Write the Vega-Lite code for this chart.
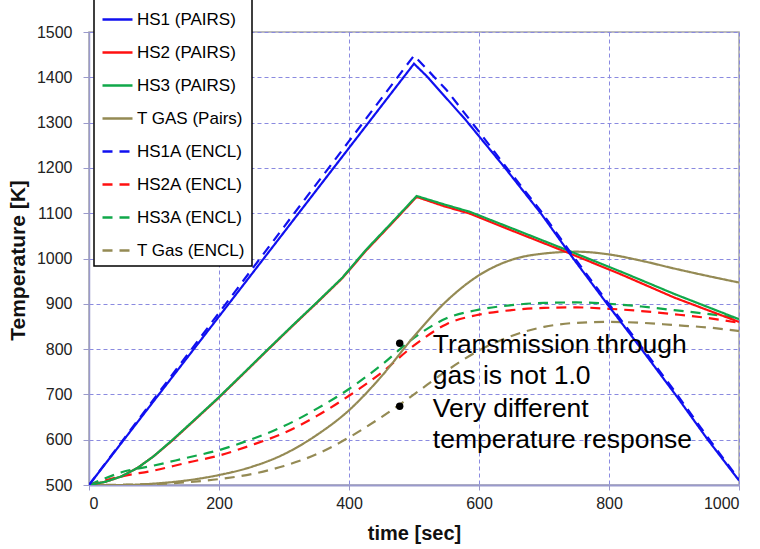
{
  "$schema": "https://vega.github.io/schema/vega-lite/v6.json",
  "width": 650,
  "height": 453,
  "autosize": "none",
  "padding": {"left": 89, "top": 32, "right": 21, "bottom": 64},
  "background": "white",
  "config": {
    "view": {"stroke": "#a6a6a6", "strokeWidth": 1.5},
    "font": "Liberation Sans",
    "axis": {
      "labelFont": "Liberation Sans",
      "labelFontSize": 16,
      "labelColor": "#222222",
      "titleFont": "Liberation Sans",
      "titleColor": "#111111",
      "titleFontWeight": "bold",
      "domainColor": "#9a9acc",
      "tickColor": "#9a9acc",
      "gridColor": "#8a8ae0",
      "gridDash": [4, 3],
      "gridWidth": 1
    }
  },
  "datasets": {
    "smooth": [
      {"series": "T Gas (ENCL)", "t": 0, "T": 500},
      {"series": "T Gas (ENCL)", "t": 100, "T": 502},
      {"series": "T Gas (ENCL)", "t": 150, "T": 506},
      {"series": "T Gas (ENCL)", "t": 200, "T": 513},
      {"series": "T Gas (ENCL)", "t": 250, "T": 524},
      {"series": "T Gas (ENCL)", "t": 300, "T": 542},
      {"series": "T Gas (ENCL)", "t": 350, "T": 568},
      {"series": "T Gas (ENCL)", "t": 400, "T": 605},
      {"series": "T Gas (ENCL)", "t": 450, "T": 650},
      {"series": "T Gas (ENCL)", "t": 500, "T": 700},
      {"series": "T Gas (ENCL)", "t": 550, "T": 752},
      {"series": "T Gas (ENCL)", "t": 600, "T": 797},
      {"series": "T Gas (ENCL)", "t": 650, "T": 829},
      {"series": "T Gas (ENCL)", "t": 700, "T": 849},
      {"series": "T Gas (ENCL)", "t": 750, "T": 858},
      {"series": "T Gas (ENCL)", "t": 800, "T": 860},
      {"series": "T Gas (ENCL)", "t": 850, "T": 858},
      {"series": "T Gas (ENCL)", "t": 900, "T": 853},
      {"series": "T Gas (ENCL)", "t": 950, "T": 848},
      {"series": "T Gas (ENCL)", "t": 1000, "T": 840},

      {"series": "HS2A (ENCL)", "t": 0, "T": 500},
      {"series": "HS2A (ENCL)", "t": 25, "T": 510},
      {"series": "HS2A (ENCL)", "t": 50, "T": 519},
      {"series": "HS2A (ENCL)", "t": 100, "T": 532},
      {"series": "HS2A (ENCL)", "t": 150, "T": 549},
      {"series": "HS2A (ENCL)", "t": 200, "T": 565},
      {"series": "HS2A (ENCL)", "t": 250, "T": 588},
      {"series": "HS2A (ENCL)", "t": 300, "T": 615},
      {"series": "HS2A (ENCL)", "t": 350, "T": 652},
      {"series": "HS2A (ENCL)", "t": 400, "T": 697},
      {"series": "HS2A (ENCL)", "t": 450, "T": 748},
      {"series": "HS2A (ENCL)", "t": 500, "T": 808},
      {"series": "HS2A (ENCL)", "t": 550, "T": 855},
      {"series": "HS2A (ENCL)", "t": 600, "T": 876},
      {"series": "HS2A (ENCL)", "t": 650, "T": 886},
      {"series": "HS2A (ENCL)", "t": 700, "T": 891},
      {"series": "HS2A (ENCL)", "t": 750, "T": 892},
      {"series": "HS2A (ENCL)", "t": 800, "T": 889},
      {"series": "HS2A (ENCL)", "t": 850, "T": 884},
      {"series": "HS2A (ENCL)", "t": 900, "T": 877},
      {"series": "HS2A (ENCL)", "t": 950, "T": 869},
      {"series": "HS2A (ENCL)", "t": 1000, "T": 858},

      {"series": "HS3A (ENCL)", "t": 0, "T": 500},
      {"series": "HS3A (ENCL)", "t": 25, "T": 515},
      {"series": "HS3A (ENCL)", "t": 50, "T": 528},
      {"series": "HS3A (ENCL)", "t": 100, "T": 543},
      {"series": "HS3A (ENCL)", "t": 150, "T": 560},
      {"series": "HS3A (ENCL)", "t": 200, "T": 577},
      {"series": "HS3A (ENCL)", "t": 250, "T": 601},
      {"series": "HS3A (ENCL)", "t": 300, "T": 630},
      {"series": "HS3A (ENCL)", "t": 350, "T": 668},
      {"series": "HS3A (ENCL)", "t": 400, "T": 712},
      {"series": "HS3A (ENCL)", "t": 450, "T": 765},
      {"series": "HS3A (ENCL)", "t": 500, "T": 825},
      {"series": "HS3A (ENCL)", "t": 550, "T": 868},
      {"series": "HS3A (ENCL)", "t": 600, "T": 887},
      {"series": "HS3A (ENCL)", "t": 650, "T": 897},
      {"series": "HS3A (ENCL)", "t": 700, "T": 902},
      {"series": "HS3A (ENCL)", "t": 750, "T": 903},
      {"series": "HS3A (ENCL)", "t": 800, "T": 900},
      {"series": "HS3A (ENCL)", "t": 850, "T": 894},
      {"series": "HS3A (ENCL)", "t": 900, "T": 886},
      {"series": "HS3A (ENCL)", "t": 950, "T": 878},
      {"series": "HS3A (ENCL)", "t": 1000, "T": 868},

      {"series": "T GAS (Pairs)", "t": 0, "T": 500},
      {"series": "T GAS (Pairs)", "t": 50, "T": 500},
      {"series": "T GAS (Pairs)", "t": 100, "T": 503},
      {"series": "T GAS (Pairs)", "t": 150, "T": 510},
      {"series": "T GAS (Pairs)", "t": 200, "T": 522},
      {"series": "T GAS (Pairs)", "t": 250, "T": 540},
      {"series": "T GAS (Pairs)", "t": 300, "T": 568},
      {"series": "T GAS (Pairs)", "t": 350, "T": 610},
      {"series": "T GAS (Pairs)", "t": 400, "T": 665},
      {"series": "T GAS (Pairs)", "t": 450, "T": 740},
      {"series": "T GAS (Pairs)", "t": 500, "T": 828},
      {"series": "T GAS (Pairs)", "t": 550, "T": 906},
      {"series": "T GAS (Pairs)", "t": 600, "T": 963},
      {"series": "T GAS (Pairs)", "t": 650, "T": 997},
      {"series": "T GAS (Pairs)", "t": 700, "T": 1011},
      {"series": "T GAS (Pairs)", "t": 750, "T": 1015},
      {"series": "T GAS (Pairs)", "t": 800, "T": 1009},
      {"series": "T GAS (Pairs)", "t": 850, "T": 995},
      {"series": "T GAS (Pairs)", "t": 900, "T": 978},
      {"series": "T GAS (Pairs)", "t": 950, "T": 962},
      {"series": "T GAS (Pairs)", "t": 1000, "T": 947}
    ],
    "sharp": [
      {"series": "HS2 (PAIRS)", "t": 0, "T": 500},
      {"series": "HS2 (PAIRS)", "t": 25, "T": 507},
      {"series": "HS2 (PAIRS)", "t": 50, "T": 519},
      {"series": "HS2 (PAIRS)", "t": 75, "T": 538},
      {"series": "HS2 (PAIRS)", "t": 100, "T": 564},
      {"series": "HS2 (PAIRS)", "t": 128, "T": 598},
      {"series": "HS2 (PAIRS)", "t": 160, "T": 640},
      {"series": "HS2 (PAIRS)", "t": 197, "T": 689},
      {"series": "HS2 (PAIRS)", "t": 240, "T": 749},
      {"series": "HS2 (PAIRS)", "t": 277, "T": 801},
      {"series": "HS2 (PAIRS)", "t": 313, "T": 851},
      {"series": "HS2 (PAIRS)", "t": 349, "T": 900},
      {"series": "HS2 (PAIRS)", "t": 390, "T": 957},
      {"series": "HS2 (PAIRS)", "t": 426, "T": 1017},
      {"series": "HS2 (PAIRS)", "t": 465, "T": 1076},
      {"series": "HS2 (PAIRS)", "t": 504, "T": 1136},
      {"series": "HS2 (PAIRS)", "t": 545, "T": 1116},
      {"series": "HS2 (PAIRS)", "t": 586, "T": 1099},
      {"series": "HS2 (PAIRS)", "t": 650, "T": 1062},
      {"series": "HS2 (PAIRS)", "t": 740, "T": 1011},
      {"series": "HS2 (PAIRS)", "t": 820, "T": 964},
      {"series": "HS2 (PAIRS)", "t": 900, "T": 914},
      {"series": "HS2 (PAIRS)", "t": 1000, "T": 860},

      {"series": "HS3 (PAIRS)", "t": 0, "T": 500},
      {"series": "HS3 (PAIRS)", "t": 25, "T": 507},
      {"series": "HS3 (PAIRS)", "t": 50, "T": 519},
      {"series": "HS3 (PAIRS)", "t": 75, "T": 538},
      {"series": "HS3 (PAIRS)", "t": 100, "T": 564},
      {"series": "HS3 (PAIRS)", "t": 128, "T": 599},
      {"series": "HS3 (PAIRS)", "t": 160, "T": 641},
      {"series": "HS3 (PAIRS)", "t": 197, "T": 690},
      {"series": "HS3 (PAIRS)", "t": 240, "T": 750},
      {"series": "HS3 (PAIRS)", "t": 277, "T": 802},
      {"series": "HS3 (PAIRS)", "t": 313, "T": 852},
      {"series": "HS3 (PAIRS)", "t": 349, "T": 901},
      {"series": "HS3 (PAIRS)", "t": 390, "T": 958},
      {"series": "HS3 (PAIRS)", "t": 426, "T": 1019},
      {"series": "HS3 (PAIRS)", "t": 465, "T": 1078},
      {"series": "HS3 (PAIRS)", "t": 504, "T": 1138},
      {"series": "HS3 (PAIRS)", "t": 545, "T": 1120},
      {"series": "HS3 (PAIRS)", "t": 586, "T": 1103},
      {"series": "HS3 (PAIRS)", "t": 650, "T": 1067},
      {"series": "HS3 (PAIRS)", "t": 740, "T": 1016},
      {"series": "HS3 (PAIRS)", "t": 820, "T": 970},
      {"series": "HS3 (PAIRS)", "t": 900, "T": 922},
      {"series": "HS3 (PAIRS)", "t": 1000, "T": 866},

      {"series": "HS1A (ENCL)", "t": 0, "T": 500},
      {"series": "HS1A (ENCL)", "t": 100, "T": 690},
      {"series": "HS1A (ENCL)", "t": 200, "T": 880},
      {"series": "HS1A (ENCL)", "t": 300, "T": 1070},
      {"series": "HS1A (ENCL)", "t": 400, "T": 1259},
      {"series": "HS1A (ENCL)", "t": 500, "T": 1448},
      {"series": "HS1A (ENCL)", "t": 550, "T": 1372},
      {"series": "HS1A (ENCL)", "t": 600, "T": 1280},
      {"series": "HS1A (ENCL)", "t": 640, "T": 1205},
      {"series": "HS1A (ENCL)", "t": 695, "T": 1105},
      {"series": "HS1A (ENCL)", "t": 745, "T": 1005},
      {"series": "HS1A (ENCL)", "t": 797, "T": 905},
      {"series": "HS1A (ENCL)", "t": 850, "T": 805},
      {"series": "HS1A (ENCL)", "t": 902, "T": 705},
      {"series": "HS1A (ENCL)", "t": 952, "T": 605},
      {"series": "HS1A (ENCL)", "t": 1000, "T": 512},

      {"series": "HS1 (PAIRS)", "t": 0, "T": 500},
      {"series": "HS1 (PAIRS)", "t": 100, "T": 686},
      {"series": "HS1 (PAIRS)", "t": 200, "T": 872},
      {"series": "HS1 (PAIRS)", "t": 300, "T": 1058},
      {"series": "HS1 (PAIRS)", "t": 400, "T": 1244},
      {"series": "HS1 (PAIRS)", "t": 500, "T": 1430},
      {"series": "HS1 (PAIRS)", "t": 520, "T": 1402},
      {"series": "HS1 (PAIRS)", "t": 580, "T": 1305},
      {"series": "HS1 (PAIRS)", "t": 640, "T": 1200},
      {"series": "HS1 (PAIRS)", "t": 695, "T": 1100},
      {"series": "HS1 (PAIRS)", "t": 745, "T": 1000},
      {"series": "HS1 (PAIRS)", "t": 797, "T": 900},
      {"series": "HS1 (PAIRS)", "t": 850, "T": 800},
      {"series": "HS1 (PAIRS)", "t": 902, "T": 700},
      {"series": "HS1 (PAIRS)", "t": 952, "T": 600},
      {"series": "HS1 (PAIRS)", "t": 1000, "T": 510}
    ]
  },
  "layer": [
    {
      "data": {"name": "smooth"},
      "mark": {"type": "line", "strokeWidth": 2.2, "clip": true, "interpolate": "monotone"},
      "encoding": {
        "x": {"field": "t", "type": "quantitative", "scale": {"domain": [0, 1000], "nice": false}},
        "y": {"field": "T", "type": "quantitative", "scale": {"domain": [500, 1500], "nice": false, "zero": false}},
        "color": {"field": "series", "type": "nominal"},
        "strokeDash": {"field": "series", "type": "nominal"}
      }
    },
    {
      "data": {"name": "sharp"},
      "mark": {"type": "line", "strokeWidth": 2.2, "clip": true},
      "encoding": {
        "x": {
          "field": "t", "type": "quantitative",
          "scale": {"domain": [0, 1000], "nice": false},
          "axis": {
            "values": [0, 200, 400, 600, 800, 1000],
            "format": "d",
            "title": "time [sec]",
            "titleFontSize": 20,
            "titleX": 325, "titleY": 48, "titleBaseline": "middle",
            "tickSize": 5, "labelPadding": 5,
            "domainWidth": 2
          }
        },
        "y": {
          "field": "T", "type": "quantitative",
          "scale": {"domain": [500, 1500], "nice": false, "zero": false},
          "axis": {
            "values": [500, 600, 700, 800, 900, 1000, 1100, 1200, 1300, 1400, 1500],
            "format": "d",
            "title": "Temperature [K]",
            "titleFontSize": 21,
            "titleAngle": -90,
            "titleX": -71, "titleY": 228,
            "titleAlign": "center", "titleBaseline": "middle",
            "tickSize": 6, "labelPadding": 11,
            "domainWidth": 1.5
          }
        },
        "color": {
          "field": "series", "type": "nominal",
          "scale": {
            "domain": ["HS1 (PAIRS)", "HS2 (PAIRS)", "HS3 (PAIRS)", "T GAS (Pairs)", "HS1A (ENCL)", "HS2A (ENCL)", "HS3A (ENCL)", "T Gas (ENCL)"],
            "range": ["#1010f0", "#ff1010", "#10a84a", "#948a54", "#1010f0", "#ff1010", "#10a84a", "#948a54"]
          },
          "legend": {
            "title": null,
            "orient": "none",
            "legendX": 5,
            "legendY": -36,
            "fillColor": "white",
            "strokeColor": "#000000",
            "padding": 7,
            "symbolType": "stroke",
            "symbolSize": 900,
            "symbolStrokeWidth": 2.5,
            "labelFont": "Liberation Sans",
            "labelFontSize": 17,
            "labelColor": "#000000",
            "labelOffset": 3,
            "rowPadding": 8,
            "encode": {"legend": {"update": {"strokeWidth": {"value": 1.5}}}}
          }
        },
        "strokeDash": {
          "field": "series", "type": "nominal",
          "scale": {
            "domain": ["HS1 (PAIRS)", "HS2 (PAIRS)", "HS3 (PAIRS)", "T GAS (Pairs)", "HS1A (ENCL)", "HS2A (ENCL)", "HS3A (ENCL)", "T Gas (ENCL)"],
            "range": [[1, 0], [1, 0], [1, 0], [1, 0], [10, 7], [10, 7], [10, 7], [10, 7]]
          },
          "legend": {"title": null}
        }
      }
    },
    {
      "data": {"values": [{}]},
      "mark": {"type": "point", "filled": true, "color": "black", "size": 55, "opacity": 1},
      "encoding": {"x": {"datum": 478, "type": "quantitative"}, "y": {"datum": 813, "type": "quantitative"}}
    },
    {
      "data": {"values": [{}]},
      "mark": {"type": "point", "filled": true, "color": "black", "size": 55, "opacity": 1},
      "encoding": {"x": {"datum": 478, "type": "quantitative"}, "y": {"datum": 674, "type": "quantitative"}}
    },
    {
      "data": {"values": [{}]},
      "mark": {"type": "text", "align": "left", "baseline": "alphabetic", "font": "Liberation Sans", "fontSize": 26.5, "lineHeight": 31.5, "color": "black",
        "text": ["Transmission through", "gas is not 1.0"]},
      "encoding": {"x": {"datum": 529, "type": "quantitative"}, "y": {"datum": 792, "type": "quantitative"}}
    },
    {
      "data": {"values": [{}]},
      "mark": {"type": "text", "align": "left", "baseline": "alphabetic", "font": "Liberation Sans", "fontSize": 26.5, "lineHeight": 31.5, "color": "black",
        "text": ["Very different", "temperature response"]},
      "encoding": {"x": {"datum": 529, "type": "quantitative"}, "y": {"datum": 651, "type": "quantitative"}}
    }
  ]
}
